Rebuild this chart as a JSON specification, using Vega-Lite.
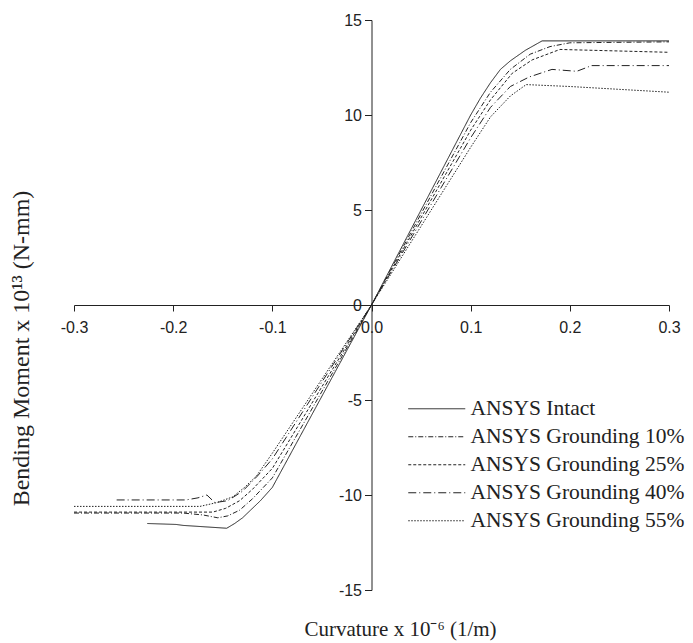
{
 "$schema": "https://vega.github.io/schema/vega-lite/v6.json",
 "width": 595, "height": 570,
 "autosize": "none",
 "padding": {"left": 74, "top": 20, "right": 24, "bottom": 53},
 "background": "white",
 "config": {"view": {"stroke": null}},
 "data": {"values": [
  {"s":"ANSYS Intact","x":-0.226,"y":-11.5},{"s":"ANSYS Intact","x":-0.197,"y":-11.55},{"s":"ANSYS Intact","x":-0.19,"y":-11.6},{"s":"ANSYS Intact","x":-0.146,"y":-11.75},{"s":"ANSYS Intact","x":-0.138,"y":-11.5},{"s":"ANSYS Intact","x":-0.13,"y":-11.2},{"s":"ANSYS Intact","x":-0.122,"y":-10.8},{"s":"ANSYS Intact","x":-0.112,"y":-10.3},{"s":"ANSYS Intact","x":-0.1,"y":-9.6},{"s":"ANSYS Intact","x":0,"y":0},{"s":"ANSYS Intact","x":0.1,"y":10.0},{"s":"ANSYS Intact","x":0.11,"y":10.9},{"s":"ANSYS Intact","x":0.12,"y":11.7},{"s":"ANSYS Intact","x":0.13,"y":12.4},{"s":"ANSYS Intact","x":0.14,"y":12.85},{"s":"ANSYS Intact","x":0.155,"y":13.4},{"s":"ANSYS Intact","x":0.172,"y":13.9},{"s":"ANSYS Intact","x":0.3,"y":13.9},
  {"s":"ANSYS Grounding 10%","x":-0.3,"y":-10.95},{"s":"ANSYS Grounding 10%","x":-0.19,"y":-10.95},{"s":"ANSYS Grounding 10%","x":-0.17,"y":-11.05},{"s":"ANSYS Grounding 10%","x":-0.155,"y":-11.2},{"s":"ANSYS Grounding 10%","x":-0.145,"y":-11.1},{"s":"ANSYS Grounding 10%","x":-0.133,"y":-10.8},{"s":"ANSYS Grounding 10%","x":-0.12,"y":-10.2},{"s":"ANSYS Grounding 10%","x":-0.1,"y":-9.1},{"s":"ANSYS Grounding 10%","x":0,"y":0},{"s":"ANSYS Grounding 10%","x":0.1,"y":9.6},{"s":"ANSYS Grounding 10%","x":0.12,"y":11.2},{"s":"ANSYS Grounding 10%","x":0.14,"y":12.4},{"s":"ANSYS Grounding 10%","x":0.16,"y":13.2},{"s":"ANSYS Grounding 10%","x":0.18,"y":13.6},{"s":"ANSYS Grounding 10%","x":0.2,"y":13.8},{"s":"ANSYS Grounding 10%","x":0.3,"y":13.85},
  {"s":"ANSYS Grounding 25%","x":-0.3,"y":-10.9},{"s":"ANSYS Grounding 25%","x":-0.19,"y":-10.9},{"s":"ANSYS Grounding 25%","x":-0.16,"y":-10.9},{"s":"ANSYS Grounding 25%","x":-0.147,"y":-10.7},{"s":"ANSYS Grounding 25%","x":-0.133,"y":-10.3},{"s":"ANSYS Grounding 25%","x":-0.12,"y":-9.7},{"s":"ANSYS Grounding 25%","x":-0.1,"y":-8.6},{"s":"ANSYS Grounding 25%","x":0,"y":0},{"s":"ANSYS Grounding 25%","x":0.1,"y":9.2},{"s":"ANSYS Grounding 25%","x":0.12,"y":10.8},{"s":"ANSYS Grounding 25%","x":0.142,"y":12.2},{"s":"ANSYS Grounding 25%","x":0.162,"y":12.9},{"s":"ANSYS Grounding 25%","x":0.19,"y":13.45},{"s":"ANSYS Grounding 25%","x":0.3,"y":13.3},
  {"s":"ANSYS Grounding 40%","x":-0.257,"y":-10.26},{"s":"ANSYS Grounding 40%","x":-0.187,"y":-10.26},{"s":"ANSYS Grounding 40%","x":-0.175,"y":-10.15},{"s":"ANSYS Grounding 40%","x":-0.166,"y":-10.0},{"s":"ANSYS Grounding 40%","x":-0.158,"y":-10.4},{"s":"ANSYS Grounding 40%","x":-0.145,"y":-10.3},{"s":"ANSYS Grounding 40%","x":-0.13,"y":-9.8},{"s":"ANSYS Grounding 40%","x":-0.115,"y":-9.0},{"s":"ANSYS Grounding 40%","x":-0.1,"y":-8.1},{"s":"ANSYS Grounding 40%","x":0,"y":0},{"s":"ANSYS Grounding 40%","x":0.1,"y":8.8},{"s":"ANSYS Grounding 40%","x":0.12,"y":10.4},{"s":"ANSYS Grounding 40%","x":0.14,"y":11.5},{"s":"ANSYS Grounding 40%","x":0.159,"y":12.0},{"s":"ANSYS Grounding 40%","x":0.182,"y":12.4},{"s":"ANSYS Grounding 40%","x":0.207,"y":12.3},{"s":"ANSYS Grounding 40%","x":0.222,"y":12.6},{"s":"ANSYS Grounding 40%","x":0.3,"y":12.6},
  {"s":"ANSYS Grounding 55%","x":-0.3,"y":-10.6},{"s":"ANSYS Grounding 55%","x":-0.173,"y":-10.6},{"s":"ANSYS Grounding 55%","x":-0.156,"y":-10.4},{"s":"ANSYS Grounding 55%","x":-0.14,"y":-10.1},{"s":"ANSYS Grounding 55%","x":-0.128,"y":-9.6},{"s":"ANSYS Grounding 55%","x":-0.116,"y":-9.0},{"s":"ANSYS Grounding 55%","x":-0.1,"y":-7.8},{"s":"ANSYS Grounding 55%","x":0,"y":0},{"s":"ANSYS Grounding 55%","x":0.1,"y":8.3},{"s":"ANSYS Grounding 55%","x":0.12,"y":9.9},{"s":"ANSYS Grounding 55%","x":0.14,"y":11.0},{"s":"ANSYS Grounding 55%","x":0.156,"y":11.6},{"s":"ANSYS Grounding 55%","x":0.2,"y":11.5},{"s":"ANSYS Grounding 55%","x":0.25,"y":11.35},{"s":"ANSYS Grounding 55%","x":0.3,"y":11.2}
 ]},
 "mark": {"type": "line", "color": "#222", "strokeWidth": 1},
 "encoding": {
  "x": {"field": "x", "type": "quantitative",
   "scale": {"domain": [-0.3, 0.3], "nice": false, "zero": false},
   "axis": {"orient": "bottom", "offset": -285, "values": [-0.3,-0.2,-0.1,0,0.1,0.2,0.3], "format": ".1f",
    "labelExpr": "replace(datum.label, '−', '-')",
    "grid": false, "domainColor": "#222", "tickColor": "#222", "tickSize": 6, "labelFlush": false, "labelOverlap": false,
    "labelFont": "Liberation Sans", "labelFontSize": 16, "labelColor": "#222", "labelPadding": 8,
    "title": "Curvature x 10⁻⁶ (1/m)", "titleFont": "Liberation Serif", "titleFontSize": 21, "titleFontWeight": "normal", "titleColor": "#222",
    "titleX": 326, "titleY": 330, "titleAlign": "center", "titleBaseline": "alphabetic"}},
  "y": {"field": "y", "type": "quantitative",
   "scale": {"domain": [-15, 15], "nice": false, "zero": false},
   "axis": {"orient": "left", "offset": -297.5, "values": [-15,-10,-5,0,5,10,15], "format": "d",
    "labelExpr": "replace(datum.label, '−', '-')",
    "grid": false, "domainColor": "#222", "tickColor": "#222", "tickSize": 7, "labelOverlap": false, "labelFlush": false,
    "labelFont": "Liberation Sans", "labelFontSize": 16, "labelColor": "#222", "labelPadding": 3,
    "title": "Bending Moment x 10¹³ (N-mm)", "titleFont": "Liberation Serif", "titleFontSize": 24, "titleFontWeight": "normal", "titleColor": "#222",
    "titleX": -350, "titleY": 328, "titleAngle": 270, "titleAlign": "center", "titleBaseline": "middle"}},
  "strokeDash": {"field": "s", "type": "nominal",
   "scale": {"domain": ["ANSYS Intact","ANSYS Grounding 10%","ANSYS Grounding 25%","ANSYS Grounding 40%","ANSYS Grounding 55%"],
    "range": [[1,0],[5,2,1,2],[3,2],[8,3,1,3],[1.5,1.5]]},
   "legend": {"orient": "none", "legendX": 352, "legendY": 378, "title": null,
    "symbolType": "M-4,0H4", "symbolSize": 203, "symbolStrokeColor": "#222", "symbolStrokeWidth": 1, "symbolFillColor": "transparent",
    "labelFont": "Liberation Serif", "labelFontSize": 21.5, "labelColor": "#222", "rowPadding": 5, "labelOffset": 23, "labelLimit": 400}}
 }
}
